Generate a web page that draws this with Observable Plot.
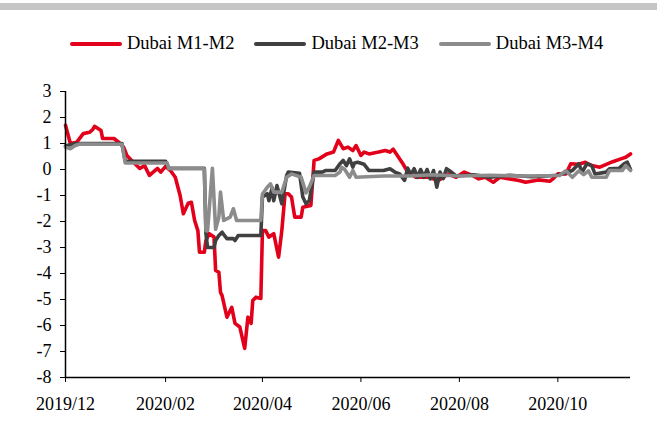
<!DOCTYPE html>
<html>
<head>
<meta charset="utf-8">
<script src="https://cdn.jsdelivr.net/npm/d3@7"></script>
<script src="https://cdn.jsdelivr.net/npm/@observablehq/plot@0.6"></script>
<style>
  html, body { margin: 0; padding: 0; background: #fff; }
  body { width: 657px; height: 424px; overflow: hidden; font-family: "Liberation Serif", "Times New Roman", serif; }
  #top { position: relative; height: 75px; width: 657px; }
  #bar { position: absolute; left: 0; top: 3px; width: 657px; height: 7px; background: #c6c6c6; }
  #legend { position: absolute; left: 70px; top: 33px; display: flex; align-items: center; font-size: 18.5px; color: #000; white-space: nowrap; }
  .item { display: flex; align-items: center; margin-right: 20px; }
  .sw { width: 52px; height: 4px; border-radius: 2px; margin-right: 5px; }
  svg text { font-family: "Liberation Serif", "Times New Roman", serif !important; }
</style>
</head>
<body>
<div id="top"><div id="bar"></div><div id="legend"></div></div>
<div id="chart"></div>
<script>
const seriesNames = ["Dubai M1-M2", "Dubai M2-M3", "Dubai M3-M4"];
const seriesColors = ["#e2001a", "#404040", "#8c8c8c"];

const m1m2 = [
  ["2019-12-01",1.7],["2019-12-04",1.0],["2019-12-08",1.05],["2019-12-12",1.38],["2019-12-16",1.43],
  ["2019-12-18",1.55],["2019-12-19",1.66],["2019-12-23",1.5],["2019-12-24",1.19],["2019-12-31",1.19],
  ["2020-01-03",1.05],["2020-01-06",0.86],["2020-01-08",0.54],["2020-01-11",0.35],["2020-01-16",0.04],
  ["2020-01-19",0.15],["2020-01-22",-0.23],["2020-01-27",0.04],["2020-01-29",-0.1],["2020-02-01",0.12],
  ["2020-02-04",-0.04],["2020-02-07",-0.3],["2020-02-10",-1.0],["2020-02-12",-1.7],["2020-02-15",-1.3],
  ["2020-02-17",-1.26],["2020-02-19",-1.96],["2020-02-21",-2.35],["2020-02-22",-3.18],["2020-02-25",-3.18],
  ["2020-02-26",-2.73],["2020-02-28",-2.47],["2020-03-02",-2.6],["2020-03-03",-3.88],["2020-03-05",-3.95],
  ["2020-03-06",-4.72],["2020-03-07",-4.85],["2020-03-10",-5.68],["2020-03-13",-5.3],["2020-03-15",-5.92],
  ["2020-03-18",-6.06],["2020-03-21",-6.88],["2020-03-23",-5.68],["2020-03-25",-5.92],["2020-03-26",-5.04],
  ["2020-03-28",-4.91],["2020-03-31",-4.96],["2020-04-01",-2.35],["2020-04-03",-2.35],["2020-04-05",-2.6],
  ["2020-04-08",-2.47],["2020-04-11",-3.37],["2020-04-13",-2.35],["2020-04-15",-0.93],["2020-04-17",-0.93],
  ["2020-04-19",-1.06],["2020-04-21",-1.83],["2020-04-25",-1.83],["2020-04-26",-1.45],["2020-05-01",-1.38],
  ["2020-05-03",0.35],["2020-05-06",0.41],["2020-05-11",0.6],["2020-05-15",0.67],["2020-05-18",1.12],
  ["2020-05-21",0.8],["2020-05-24",0.86],["2020-05-27",0.73],["2020-05-29",0.92],["2020-06-01",0.54],
  ["2020-06-03",0.67],["2020-06-06",0.6],["2020-06-12",0.67],["2020-06-16",0.73],["2020-06-19",0.67],
  ["2020-06-21",0.78],["2020-06-24",0.5],["2020-06-27",0.22],["2020-06-30",-0.1],["2020-07-05",-0.3],
  ["2020-07-13",-0.3],["2020-07-19",-0.42],["2020-07-25",-0.17],["2020-07-30",-0.3],["2020-08-04",-0.1],
  ["2020-08-09",-0.23],["2020-08-13",-0.36],["2020-08-17",-0.3],["2020-08-22",-0.49],["2020-08-26",-0.3],
  ["2020-09-01",-0.36],["2020-09-07",-0.42],["2020-09-11",-0.49],["2020-09-19",-0.4],["2020-09-26",-0.45],
  ["2020-09-28",-0.36],["2020-10-01",-0.17],["2020-10-06",-0.17],["2020-10-09",0.22],["2020-10-14",0.2],
  ["2020-10-18",0.28],["2020-10-22",0.15],["2020-10-27",0.09],["2020-10-31",0.2],["2020-11-04",0.3],
  ["2020-11-09",0.41],["2020-11-12",0.47],["2020-11-15",0.6]
];

const m2m3 = [
  ["2019-12-01",0.9],["2019-12-04",0.95],["2019-12-08",1.0],["2020-01-05",1.0],["2020-01-07",0.32],
  ["2020-02-01",0.32],["2020-02-03",0.05],["2020-02-25",0.05],["2020-02-26",-2.47],["2020-02-27",-3.0],
  ["2020-03-02",-3.0],["2020-03-03",-2.73],["2020-03-05",-2.54],["2020-03-07",-2.41],["2020-03-08",-2.5],
  ["2020-03-10",-2.66],["2020-03-14",-2.66],["2020-03-15",-2.73],["2020-03-17",-2.54],["2020-03-31",-2.54],
  ["2020-04-01",-1.06],["2020-04-04",-0.93],["2020-04-05",-1.2],["2020-04-07",-0.7],["2020-04-08",-1.2],
  ["2020-04-10",-0.62],["2020-04-13",-1.32],["2020-04-16",-0.23],["2020-04-17",-0.1],["2020-04-24",-0.15],
  ["2020-04-26",-1.06],["2020-04-28",-1.32],["2020-04-30",-1.2],["2020-05-03",-0.1],["2020-05-08",-0.1],
  ["2020-05-10",-0.04],["2020-05-16",-0.04],["2020-05-19",0.22],["2020-05-21",0.35],["2020-05-23",0.15],
  ["2020-05-25",0.41],["2020-05-27",0.09],["2020-05-28",0.25],["2020-05-30",0.28],["2020-06-03",0.2],
  ["2020-06-06",-0.04],["2020-06-15",-0.04],["2020-06-19",0.03],["2020-06-22",-0.1],["2020-06-25",-0.17],
  ["2020-06-28",-0.42],["2020-06-30",0.05],["2020-07-02",-0.2],["2020-07-04",0.03],["2020-07-06",-0.3],
  ["2020-07-08",0.0],["2020-07-10",-0.3],["2020-07-12",0.0],["2020-07-14",-0.36],["2020-07-16",-0.04],
  ["2020-07-18",-0.68],["2020-07-20",-0.1],["2020-07-22",-0.35],["2020-07-24",0.03],["2020-07-27",-0.1],
  ["2020-07-30",-0.25],["2020-08-10",-0.2],["2020-08-20",-0.3],["2020-09-01",-0.22],["2020-09-15",-0.28],
  ["2020-10-01",-0.22],["2020-10-10",-0.04],["2020-10-14",0.22],["2020-10-16",-0.1],["2020-10-19",0.22],
  ["2020-10-22",0.15],["2020-10-24",-0.17],["2020-10-31",-0.1],["2020-11-02",0.03],["2020-11-08",0.05],
  ["2020-11-11",0.22],["2020-11-13",0.28],["2020-11-15",0.0]
];

const m3m4 = [
  ["2019-12-01",0.86],["2019-12-04",0.8],["2019-12-07",0.92],["2019-12-10",0.98],["2020-01-05",0.97],
  ["2020-01-07",0.25],["2020-02-02",0.25],["2020-02-03",0.03],["2020-02-25",0.03],["2020-02-26",-2.35],
  ["2020-02-27",-2.35],["2020-03-01",0.05],["2020-03-03",-2.3],["2020-03-05",-1.83],["2020-03-06",-0.87],
  ["2020-03-08",-1.96],["2020-03-12",-1.83],["2020-03-14",-1.51],["2020-03-16",-1.96],["2020-03-31",-1.96],
  ["2020-04-01",-0.94],["2020-04-04",-0.68],["2020-04-06",-0.55],["2020-04-08",-0.87],["2020-04-13",-0.87],
  ["2020-04-16",-0.3],["2020-04-19",-0.17],["2020-04-25",-0.3],["2020-04-28",-0.9],["2020-04-30",-0.68],
  ["2020-05-03",-0.23],["2020-05-16",-0.23],["2020-05-19",-0.1],["2020-05-20",0.09],["2020-05-22",0.0],
  ["2020-05-25",-0.3],["2020-05-27",-0.04],["2020-05-29",-0.3],["2020-06-15",-0.25],["2020-07-01",-0.25],
  ["2020-07-15",-0.2],["2020-08-01",-0.25],["2020-08-20",-0.22],["2020-09-10",-0.25],["2020-10-02",-0.23],
  ["2020-10-06",-0.05],["2020-10-10",-0.3],["2020-10-14",-0.05],["2020-10-17",-0.2],["2020-10-20",-0.05],
  ["2020-10-22",-0.3],["2020-10-31",-0.3],["2020-11-02",-0.04],["2020-11-10",-0.04],["2020-11-12",0.15],
  ["2020-11-15",-0.04]
];

const yTicks = [-8,-7,-6,-5,-4,-3,-2,-1,0,1,2,3];
const xTickDates = ["2019-12-01","2020-02-01","2020-04-01","2020-06-01","2020-08-01","2020-10-01"];
const xTickLabels = ["2019/12","2020/02","2020/04","2020/06","2020/08","2020/10"];
const xDomain = ["2019-12-01","2020-11-15"];

const parse = d3.utcParse("%Y-%m-%d");
const toRows = (arr, name) => arr.map(([d, v]) => ({date: parse(d), value: v, series: name}));
const allSeries = [m1m2, m2m3, m3m4];
const tickDates = xTickDates.map(parse);
const labelOf = new Map(tickDates.map((d, i) => [+d, xTickLabels[i]]));

// legend
const legend = document.getElementById("legend");
seriesNames.forEach((n, i) => {
  const it = document.createElement("div");
  it.className = "item";
  it.innerHTML = `<div class="sw" style="background:${seriesColors[i]}"></div><span>${n}</span>`;
  legend.appendChild(it);
});

const chart = Plot.plot({
  width: 657,
  height: 349,
  marginLeft: 65,
  marginRight: 27,
  marginTop: 16,
  marginBottom: 47,
  style: {fontFamily: "'Liberation Serif', 'Times New Roman', serif", fontSize: "18px", color: "#000", background: "#fff"},
  x: {type: "utc", domain: xDomain.map(parse)},
  y: {domain: [-8, 3]},
  marks: [
    ...allSeries.map((s, i) => Plot.line(toRows(s, seriesNames[i]), {
      x: "date", y: "value", stroke: seriesColors[i], strokeWidth: 3.6,
      strokeLinejoin: "round", strokeLinecap: "round"
    })),
    Plot.ruleY([-8], {stroke: "#000", strokeWidth: 1.5}),
    Plot.ruleX([parse(xDomain[0])], {stroke: "#000", strokeWidth: 1.5}),
    Plot.axisY({ticks: yTicks, tickSize: 5, tickPadding: 9, tickFormat: d => String(d), label: null, stroke: "#000", fontSize: 18}),
    Plot.axisX({ticks: tickDates, tickSize: 5, tickPadding: 15, tickFormat: d => labelOf.get(+d), label: null, stroke: "#000", fontSize: 18})
  ]
});
document.getElementById("chart").appendChild(chart);
</script>
</body>
</html>
